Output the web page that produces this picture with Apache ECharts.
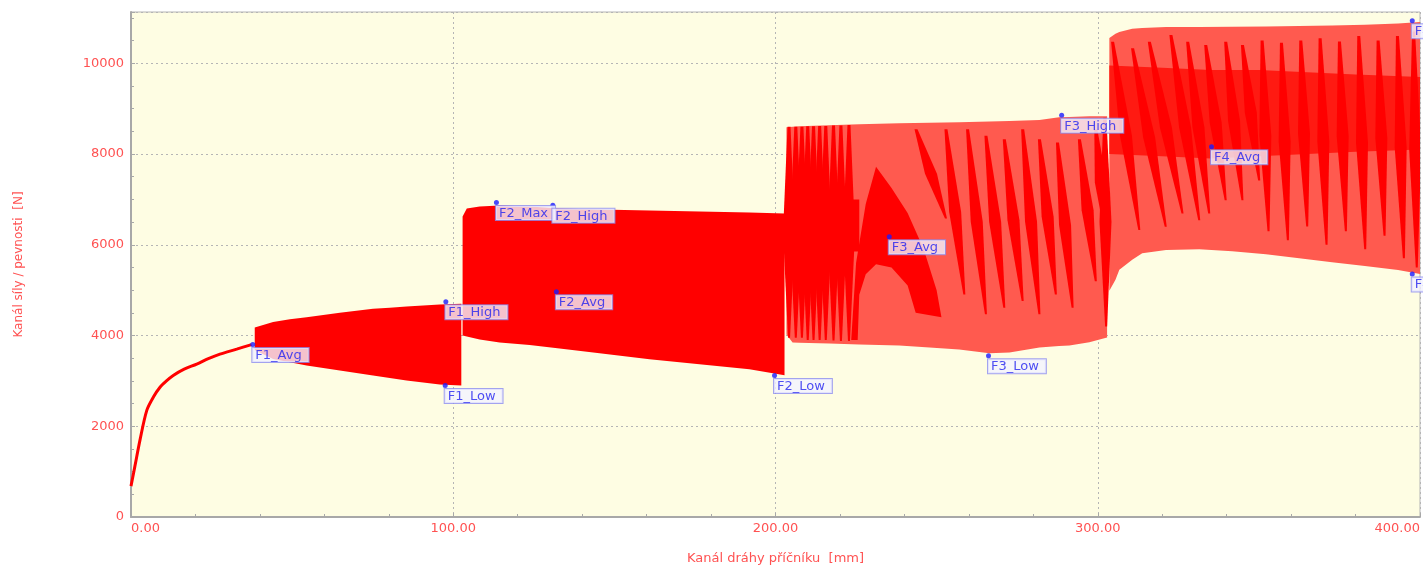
<!DOCTYPE html>
<html>
<head>
<meta charset="utf-8">
<script src="https://cdn.jsdelivr.net/npm/echarts@6/dist/echarts.min.js"></script>
<style>
html,body{margin:0;padding:0;background:#ffffff;}
#chart{width:1423px;height:570px;}
</style>
</head>
<body>
<div id="chart"></div>
<script>
// ---- Data ----
const xTicks = [0, 100, 200, 300, 400];
const yTicks = [0, 2000, 4000, 6000, 8000, 10000];

// initial loading ramp (position mm, force N)
const rampPos   = [0, 1.2, 2.8, 4.9, 7, 9, 11, 13.1, 16.5, 20.4, 24, 27.6, 32.8, 37.4];
const rampForce = [680, 1115, 1700, 2350, 2650, 2860, 3000, 3120, 3260, 3370, 3490, 3590, 3700, 3800];

// cyclic block envelopes
const f1Pos  = [38.4, 44.1, 49.3, 54.5, 64.8, 75.1, 80.3, 85.5, 95.8, 102.5];
const f1High = [4175, 4300, 4357, 4400, 4503, 4590, 4612, 4640, 4684, 4700];
const f1Low  = [3680, 3480, 3410, 3337, 3228, 3119, 3065, 3010, 2922, 2900];

const f2Pos  = [102.9, 104.2, 108.2, 114.4, 123.7, 133, 145.4, 160.9, 176.4, 191.9, 202.8];
const f2High = [6623, 6798, 6842, 6863, 6842, 6798, 6776, 6754, 6732, 6710, 6689];
const f2Low  = [4000, 3978, 3913, 3847, 3790, 3716, 3607, 3475, 3366, 3257, 3126];

const f3Pos  = [203.4, 205.3, 207.4, 216.7, 226, 238.4, 247.8, 257, 266.4, 272.6, 281.9, 288, 291.2, 297.4, 302.9];
const f3High = [8590, 8600, 8612, 8634, 8656, 8678, 8690, 8700, 8715, 8725, 8750, 8809, 8815, 8831, 8831];
const f3Low  = [4022, 3847, 3840, 3825, 3803, 3781, 3738, 3694, 3607, 3628, 3738, 3770, 3781, 3850, 3956];

const f4Pos  = [303.6, 305.5, 306.7, 310.7, 313.8, 321.2, 331.5, 341.7, 352.2, 362.5, 372.7, 382.9, 393.2, 400];
const f4High = [10557, 10650, 10689, 10760, 10776, 10798, 10798, 10805, 10812, 10820, 10835, 10850, 10874, 10907];
const f4Low  = [4984, 5230, 5449, 5668, 5814, 5886, 5902, 5858, 5792, 5705, 5617, 5530, 5443, 5355];

// darker (dense-cycle) patches inside blocks F3/F4, as [pos, force] outlines
const f3CoreBand = [[203.4, 5850], [226, 5850], [226, 7000], [203.4, 7000]];
const f3Arch = [[223.5, 3900], [225, 5600], [228, 6900], [231.2, 7720], [236, 7250], [241, 6700], [246, 5900], [250, 5000], [251.5, 4400],
                [243.5, 4500], [241, 5100], [236, 5500], [231.2, 5570], [228, 5350], [226, 4900], [225.5, 3900]];
const f4CoreBand = [[303.6, 8000], [320, 7950], [335, 7900], [350, 7950], [365, 8000], [380, 8050], [400, 8100],
                    [400, 9700], [380, 9750], [365, 9800], [350, 9850], [335, 9850], [320, 9900], [303.6, 9950]];

// dark moire stripes: start position/force -> end position/force
const stripeStartPos   = [204.2, 206.3, 208.2, 210, 211.8, 213.7, 215.6, 218, 220.3, 222.8, 243.6, 252.9, 259.6, 265.3, 271, 276.7, 281.9, 287.5, 294.3, 299.4, 302.2,
                          304.6, 310.8, 316, 322.7, 327.9, 333.5, 339.7, 344.9, 351, 357, 363, 369, 375, 381, 387, 393, 398];
const stripeStartForce = [8600, 8600, 8600, 8610, 8610, 8620, 8620, 8630, 8630, 8640, 8546, 8546, 8546, 8400, 8328, 8546, 8328, 8255, 8328, 8546, 8800,
                          10477, 10332, 10477, 10623, 10477, 10404, 10477, 10404, 10500, 10450, 10500, 10550, 10480, 10600, 10500, 10600, 10700];
const stripeEndPos     = [204.2, 206.3, 208.2, 210, 211.8, 213.7, 215.6, 218, 220.3, 222.8, 252.9, 258.6, 265.3, 271, 276.7, 281.9, 287, 292.2, 299.4, 302.5, 302.6,
                          312.9, 321.1, 326.3, 331.5, 334.6, 339.7, 344.9, 350.1, 353, 359, 365, 371, 377, 383, 389, 395, 399];
const stripeEndForce   = [3950, 3950, 3950, 3900, 3900, 3900, 3900, 3890, 3880, 3880, 6580, 4903, 4466, 4612, 4758, 4466, 4903, 4612, 5195, 6214, 4200,
                          6324, 6397, 6689, 6542, 6689, 6979, 6979, 7417, 6300, 6100, 6400, 6000, 6300, 5900, 6200, 5700, 5500];

// point annotations
const markNames = ['F1_Avg', 'F1_High', 'F1_Low', 'F2_Max', 'F2_High', 'F2_Avg', 'F2_Low', 'F3_Avg', 'F3_Low', 'F3_High', 'F4_Avg', 'F4_High', 'F4_Low'];
const markPos   = [37.8, 97.7, 97.5, 113.4, 130.9, 132, 199.7, 235.3, 266.1, 288.8, 335.3, 397.6, 397.6];
const markForce = [3803, 4743, 2900, 6929, 6870, 4962, 3119, 6179, 3556, 8852, 8160, 10936, 5355];

// ---- Build chart ----
const DARK = '#ff0000';
const LIGHT = '#ff5a4f';
const TXT = '#ff5252';

function envelope(pos, high, low) {
  const pts = [];
  for (let i = 0; i < pos.length; i++) pts.push([pos[i], high[i]]);
  for (let i = pos.length - 1; i >= 0; i--) pts.push([pos[i], low[i]]);
  return pts;
}
const shapes = [
  { pts: envelope(f1Pos, f1High, f1Low), color: DARK },
  { pts: envelope(f2Pos, f2High, f2Low), color: DARK },
  { pts: envelope(f3Pos, f3High, f3Low), color: LIGHT },
  { pts: envelope(f4Pos, f4High, f4Low), color: LIGHT },
  { pts: f3CoreBand, color: DARK },
  { pts: f3Arch, color: DARK },
  { pts: f4CoreBand, color: '#ff1a12' }
];

const chart = echarts.init(document.getElementById('chart'), null, { renderer: 'canvas' });
const font = 'DejaVu Sans';

chart.setOption({
  animation: false,
  backgroundColor: '#ffffff',
  grid: {
    left: 131, right: 2, top: 12, bottom: 49,
    show: true, backgroundColor: '#fefde3', borderColor: '#b4b4b4', borderWidth: 1
  },
  xAxis: {
    type: 'value', min: 0, max: 400, interval: 100,
    name: 'Kanál dráhy příčníku  [mm]', nameLocation: 'middle', nameGap: 35,
    nameTextStyle: { color: TXT, fontFamily: font, fontSize: 13 },
    axisLine: { show: true, lineStyle: { color: '#a8a8a8', width: 2 } },
    axisTick: { show: true, inside: true, length: 4, lineStyle: { color: '#a8a8a8' } },
    minorTick: { show: true, splitNumber: 5, length: 3, lineStyle: { color: '#a8a8a8' } },
    splitLine: { show: true, lineStyle: { color: '#b5b5b5', type: [2, 3] } },
    axisLabel: {
      color: TXT, fontFamily: font, fontSize: 13, margin: 5,
      alignMinLabel: 'left', alignMaxLabel: 'right',
      formatter: v => v.toFixed(2)
    }
  },
  yAxis: {
    type: 'value', min: 0, max: 11130, interval: 2000,
    name: 'Kanál síly / pevnosti  [N]', nameLocation: 'middle', nameGap: 106, nameRotate: 90,
    nameTextStyle: { color: TXT, fontFamily: font, fontSize: 12 },
    axisLine: { show: true, lineStyle: { color: '#a8a8a8', width: 2 } },
    axisTick: { show: true, inside: true, length: 4, lineStyle: { color: '#a8a8a8' } },
    minorTick: { show: true, splitNumber: 4, length: 3, lineStyle: { color: '#a8a8a8' } },
    splitLine: { show: true, lineStyle: { color: '#b5b5b5', type: [2, 3] } },
    axisLabel: { color: TXT, fontFamily: font, fontSize: 13, margin: 7, showMaxLabel: false,
                 formatter: v => String(v) }
  },
  series: [
    {
      type: 'custom',
      coordinateSystem: 'cartesian2d',
      clip: true,
      z: 2,
      data: shapes.map((s, i) => [i, 0]),
      renderItem: function (params, api) {
        const s = shapes[api.value(0)];
        return {
          type: 'polygon',
          shape: { points: s.pts.map(p => api.coord(p)) },
          style: { fill: s.color, stroke: null }
        };
      },
      silent: true
    },
    {
      // moire stripes drawn as slim diamonds between their end points
      type: 'custom',
      coordinateSystem: 'cartesian2d',
      clip: true,
      z: 3,
      data: stripeStartPos.map((p, i) => [p, stripeStartForce[i], stripeEndPos[i], stripeEndForce[i]]),
      renderItem: function (params, api) {
        const a = api.coord([api.value(0), api.value(1)]);
        const b = api.coord([api.value(2), api.value(3)]);
        const mx = (a[0] + b[0]) / 2, my = (a[1] + b[1]) / 2;
        const hw = 6;
        return {
          type: 'polygon',
          shape: { points: [[a[0] - 1.5, a[1]], [a[0] + 1.5, a[1]], [mx + hw, my], [b[0] + 1, b[1]], [b[0] - 1, b[1]], [mx - hw, my]] },
          style: { fill: DARK, stroke: null }
        };
      },
      silent: true
    },
    {
      type: 'line',
      z: 4,
      data: rampPos.map((p, i) => [p, rampForce[i]]),
      showSymbol: false,
      smooth: 0.3,
      lineStyle: { color: DARK, width: 3 },
      silent: true
    },
    {
      type: 'scatter',
      z: 10,
      symbol: 'circle',
      symbolSize: 5,
      itemStyle: { color: '#1a1aff' },
      data: markNames.map((n, i) => ({ name: n, value: [markPos[i], markForce[i]] })),
      label: {
        show: true,
        formatter: '{b}',
        position: [2, 6],
        align: 'left',
        verticalAlign: 'top',
        color: '#2323f0',
        fontFamily: font,
        fontSize: 13,
        backgroundColor: '#f3f3ff',
        borderColor: '#8c8cf0',
        borderWidth: 1,
        padding: [1, 7, 0, 3]
      },
      silent: true
    }
  ]
});
</script>
</body>
</html>
